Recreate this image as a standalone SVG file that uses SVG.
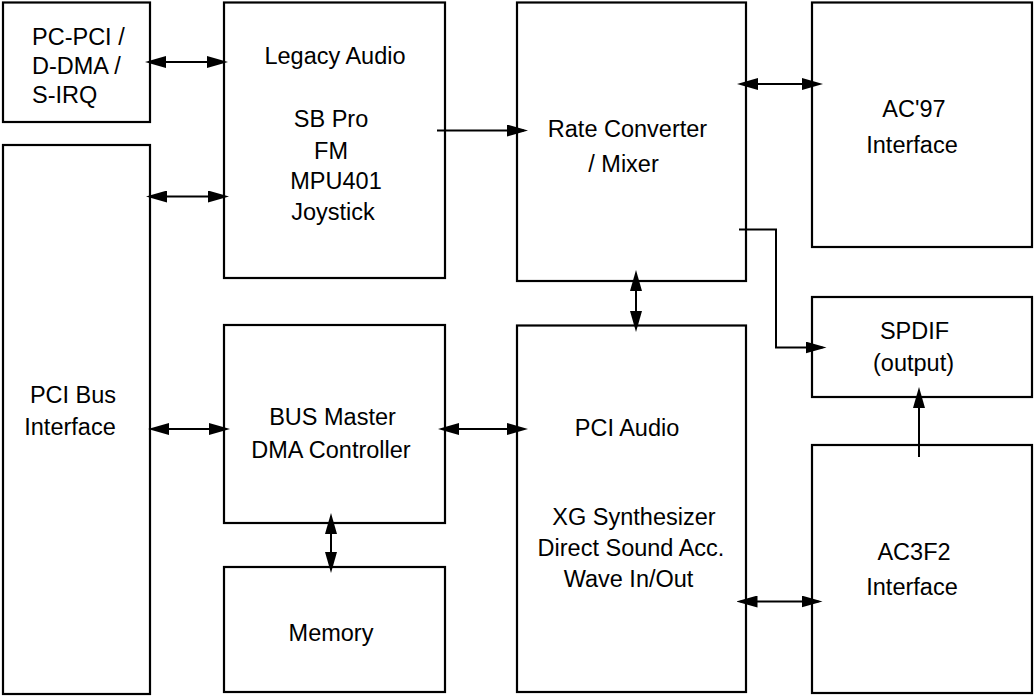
<svg xmlns="http://www.w3.org/2000/svg" width="1034" height="697" viewBox="0 0 1034 697">
  <style>
    .box { fill: #fff; stroke: #000; stroke-width: 2.2; }
    .lbl { font-family: "Liberation Sans", Arial, Helvetica, sans-serif; font-size: 23.5px; fill: #000; text-anchor: middle; }
    .lft { text-anchor: start; }
    .con { fill: none; stroke: #000; stroke-width: 2; }
  </style>
  <defs>
    <marker id="ah" viewBox="0 0 21 12" refX="17" refY="6" markerWidth="21" markerHeight="12" markerUnits="userSpaceOnUse" orient="auto-start-reverse">
      <path d="M0,0 L21,6 L0,12 Z" fill="#000"/>
    </marker>
  </defs>
  <rect width="1034" height="697" fill="#fff"/>

  <g id="pcpci">
    <rect class="box" x="3" y="2.5" width="147" height="119.5"/>
    <text class="lbl lft" x="32" y="45">PC-PCI /</text>
    <text class="lbl lft" x="32" y="74">D-DMA /</text>
    <text class="lbl lft" x="32" y="103">S-IRQ</text>
  </g>
  <g id="pcibus">
    <rect class="box" x="3" y="145" width="147" height="549"/>
    <text class="lbl" x="73" y="403">PCI Bus</text>
    <text class="lbl" x="70" y="435">Interface</text>
  </g>
  <g id="legacy">
    <rect class="box" x="224" y="2.5" width="221" height="275.5"/>
    <text class="lbl" x="335" y="64">Legacy Audio</text>
    <text class="lbl" x="331" y="127">SB Pro</text>
    <text class="lbl" x="331" y="159">FM</text>
    <text class="lbl" x="336" y="189">MPU401</text>
    <text class="lbl" x="333" y="220">Joystick</text>
  </g>
  <g id="busmaster">
    <rect class="box" x="224" y="325" width="221" height="198"/>
    <text class="lbl" x="332.5" y="425">BUS Master</text>
    <text class="lbl" x="331" y="458">DMA Controller</text>
  </g>
  <g id="memory">
    <rect class="box" x="224" y="567" width="221" height="125"/>
    <text class="lbl" x="331" y="641">Memory</text>
  </g>
  <g id="rate">
    <rect class="box" x="517" y="2.5" width="229" height="278.5"/>
    <text class="lbl" x="627.5" y="137">Rate Converter</text>
    <text class="lbl" x="623.5" y="172">/ Mixer</text>
  </g>
  <g id="pciaudio">
    <rect class="box" x="517" y="325.5" width="229" height="366.5"/>
    <text class="lbl" x="627" y="436">PCI Audio</text>
    <text class="lbl" x="634" y="525">XG Synthesizer</text>
    <text class="lbl" x="631" y="556">Direct Sound Acc.</text>
    <text class="lbl" x="628.5" y="587">Wave In/Out</text>
  </g>
  <g id="ac97">
    <rect class="box" x="812" y="2.5" width="220" height="244.5"/>
    <text class="lbl" x="914" y="117">AC'97</text>
    <text class="lbl" x="912" y="153">Interface</text>
  </g>
  <g id="spdif">
    <rect class="box" x="812" y="297" width="220" height="100"/>
    <text class="lbl" x="914.5" y="339">SPDIF</text>
    <text class="lbl" x="913.5" y="371">(output)</text>
  </g>
  <g id="ac3f2">
    <rect class="box" x="812" y="445" width="220" height="248"/>
    <text class="lbl" x="914" y="560">AC3F2</text>
    <text class="lbl" x="912" y="595">Interface</text>
  </g>

  <g id="connectors">
    <line class="con" x1="149" y1="62" x2="224" y2="62" marker-start="url(#ah)" marker-end="url(#ah)"/>
    <line class="con" x1="150" y1="196.5" x2="225" y2="196.5" marker-start="url(#ah)" marker-end="url(#ah)"/>
    <line class="con" x1="437" y1="130.5" x2="524" y2="130.5" marker-end="url(#ah)"/>
    <line class="con" x1="741" y1="84" x2="819" y2="84" marker-start="url(#ah)" marker-end="url(#ah)"/>
    <line class="con" x1="636" y1="274" x2="636" y2="328" marker-start="url(#ah)" marker-end="url(#ah)"/>
    <polyline class="con" points="739,229.5 776,229.5 776,347.5 822.5,347.5" marker-end="url(#ah)"/>
    <line class="con" x1="919" y1="457" x2="919" y2="391" marker-end="url(#ah)"/>
    <line class="con" x1="152" y1="429" x2="226" y2="429" marker-start="url(#ah)" marker-end="url(#ah)"/>
    <line class="con" x1="442" y1="429" x2="524" y2="429" marker-start="url(#ah)" marker-end="url(#ah)"/>
    <line class="con" x1="331" y1="517" x2="331" y2="569" marker-start="url(#ah)" marker-end="url(#ah)"/>
    <line class="con" x1="740.5" y1="601.5" x2="818.5" y2="601.5" marker-start="url(#ah)" marker-end="url(#ah)"/>
  </g>
</svg>
